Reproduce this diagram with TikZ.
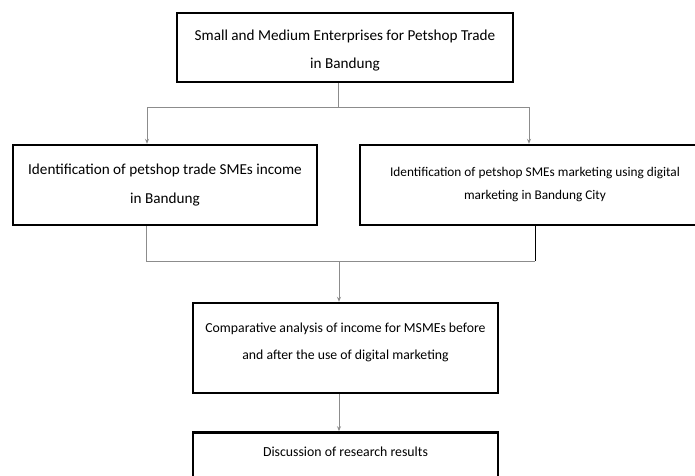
\documentclass[tikz,border=0pt]{standalone}
\usepackage{fontspec}
\setmainfont{Carlito}
\usetikzlibrary{positioning, arrows.meta}

\tikzset{
	box/.style={draw=black, line width=2.4pt, align=center, inner sep=0pt},
	link/.style={draw=black!45, line width=1pt},
	arr/.style={link, -{Stealth[length=5pt,width=4pt]}},
}

\begin{document}
\begin{tikzpicture}[x=1pt, y=-1pt]
	\clip (0,0) rectangle (695,475);
	\node (sme)[box, minimum width=336pt, minimum height=69pt] at (345,47.5) {};
	\node (smetext)[align=center, font=\fontsize{15.2}{28}\selectfont]
		at ([yshift=-3pt]sme.center)
		{Small and Medium Enterprises for Petshop Trade\\in Bandung};
	\node (income)[box, minimum width=304pt, minimum height=80pt,
		font=\fontsize{15.2}{29}\selectfont] at (165,185)
		{Identification of petshop trade SMEs income\\in Bandung};
	\node (digital)[box, minimum width=350pt, minimum height=80pt,
		font=\fontsize{13.3}{23}\selectfont] at (535,185)
		{Identification of petshop SMEs marketing using digital\\marketing in Bandung City};
	\node (compare)[box, minimum width=305pt, minimum height=90pt] at (345.5,348) {};
	\node (comparetext)[align=center, font=\fontsize{13.75}{27}\selectfont]
		at ([yshift=6pt]compare.center)
		{Comparative analysis of income for MSMEs before\\and after the use of digital marketing};
	\node (discuss)[box, anchor=north, minimum width=305pt, text height=24pt, text depth=40pt,
		font=\fontsize{13.8}{20}\selectfont, below=37pt of compare]
		{Discussion of research results};
	% branch points
	\coordinate (split) at (338,107);
	\coordinate (lt) at (147,107);
	\coordinate (rt) at (529,107);
	\coordinate (lb) at (146,261);
	\coordinate (rb) at (535,261);
	\coordinate (merge) at (339,261);
	\draw[link] (sme.south -| split) -- (split);
	\draw[link] (lt) -- (rt);
	\draw[arr] (lt) -- (lt |- income.north);
	\draw[arr] (rt) -- (rt |- digital.north);
	\draw[link] (lb |- income.south) -- (lb) -- (rb);
	\draw[link, draw=black] (rb) -- (rb |- digital.south);
	\draw[arr] (merge) -- (merge |- compare.north);
	\draw[arr] (compare.south -| merge) -- (merge |- discuss.north);
\end{tikzpicture}
\end{document}
